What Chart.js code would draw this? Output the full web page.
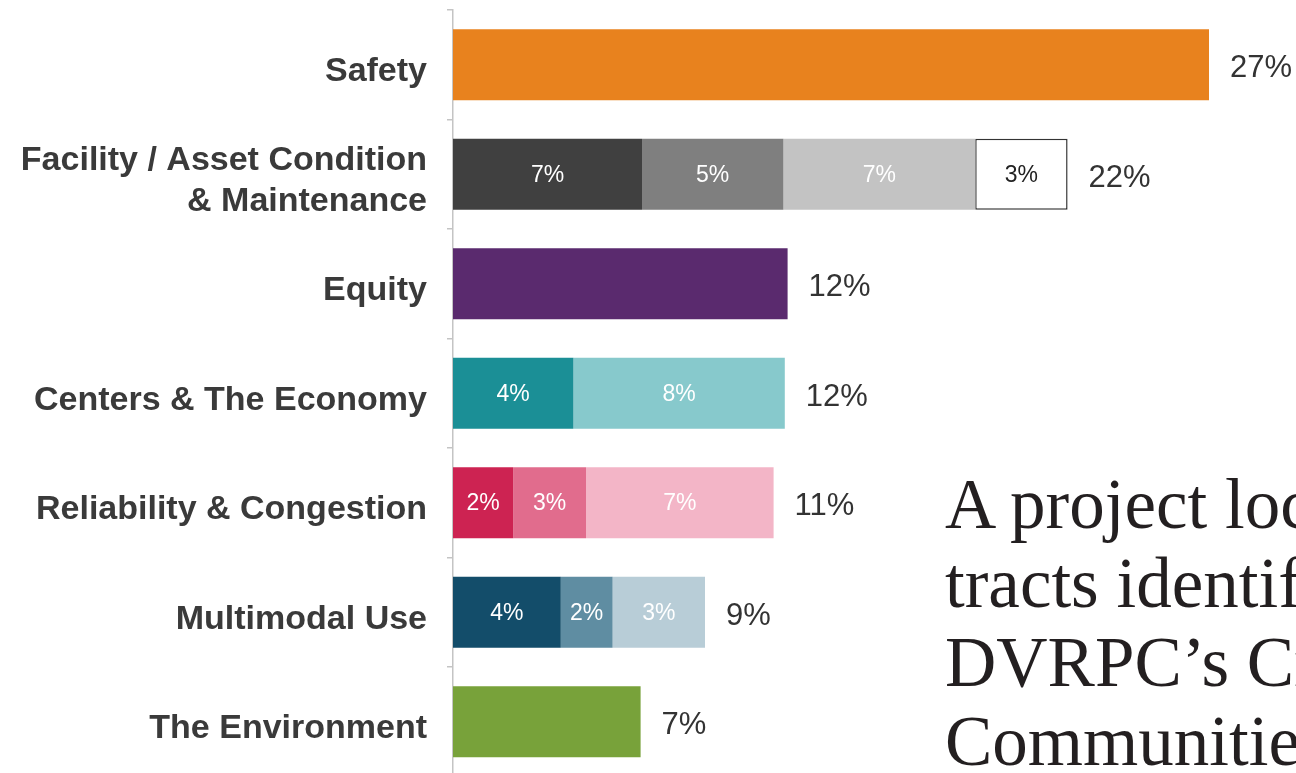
<!DOCTYPE html>
<html>
<head>
<meta charset="utf-8">
<script src="https://cdn.jsdelivr.net/npm/chart.js@4"></script>
<style>
  html, body { margin: 0; padding: 0; background: #fff; overflow: hidden; width: 1296px; height: 773px; }
  #wrap { position: absolute; left: 0; top: 0; width: 1296px; height: 790px; }
  #note {
    position: absolute; left: 945px; top: 465px;
    font-family: "Liberation Serif", "DejaVu Serif", serif;
    font-size: 71px; line-height: 79px; color: #231f20;
    white-space: nowrap;
  }
</style>
</head>
<body>
<div id="wrap"><canvas id="chart" width="1296" height="790"></canvas></div>
<div id="note">A project located in<br>tracts identified as<br>DVRPC’s Critical<br>Communities</div>
<script>
const categories = [
  "Safety",
  ["Facility / Asset Condition", "& Maintenance"],
  "Equity",
  "Centers & The Economy",
  "Reliability & Congestion",
  "Multimodal Use",
  "The Environment"
];

// segment values (percent)
const seg1 = [27, 6.75, 11.95, 4.3, 2.15, 3.85, 6.7];
const seg2 = [0, 5.05, 0, 7.55, 2.6, 1.85, 0];
const seg3 = [0, 6.85, 0, 0, 6.7, 3.3, 0];
const seg4 = [0, 3.3, 0, 0, 0, 0, 0];

const seg1Colors = ["#e8821e", "#404040", "#5a2a6e", "#1b8f96", "#cd2352", "#134d6a", "#78a23a"];
const seg2Colors = ["#fff", "#7f7f7f", "#fff", "#87c9cc", "#e16c8d", "#5f8da2", "#fff"];
const seg3Colors = ["#fff", "#c3c3c3", "#fff", "#fff", "#f3b5c7", "#b8cdd7", "#fff"];
const seg4Colors = ["#fff", "#ffffff", "#fff", "#fff", "#fff", "#fff", "#fff"];

const totals = categories.map((c, i) => seg1[i] + seg2[i] + seg3[i] + seg4[i]);
const segCount = categories.map((c, i) => [seg1[i], seg2[i], seg3[i], seg4[i]].filter(v => v > 0).length);

const labelPlugin = {
  id: "barLabels",
  afterDatasetsDraw(chart) {
    const ctx = chart.ctx;
    const xScale = chart.scales.x;
    ctx.save();
    ctx.textBaseline = "middle";
    ctx.textAlign = "center";
    ctx.font = '23px "Liberation Sans", Arial, sans-serif';
    chart.data.datasets.forEach((ds, di) => {
      const meta = chart.getDatasetMeta(di);
      meta.data.forEach((bar, i) => {
        const v = ds.data[i];
        if (!v || segCount[i] < 2) return;
        // the white segment gets dark text
        ctx.fillStyle = ds.backgroundColor[i] === "#ffffff" ? "#222" : "#fff";
        ctx.fillText(Math.round(v) + "%", (bar.x + bar.base) / 2, bar.y + 1);
      });
    });
    // totals to the right of each bar
    ctx.textAlign = "left";
    ctx.fillStyle = "#333";
    ctx.font = '31px "Liberation Sans", Arial, sans-serif';
    const meta0 = chart.getDatasetMeta(0);
    totals.forEach((t, i) => {
      const x = xScale.getPixelForValue(t) + 21;
      ctx.fillText(Math.round(t) + "%", x, meta0.data[i].y + 4);
    });
    ctx.restore();
  }
};

function makeSet(data, colors, bordered) {
  return {
    data: data,
    backgroundColor: colors,
    borderColor: "#333",
    borderWidth: data.map((v, i) => (bordered && v > 0 ? 1.5 : 0)),
    borderSkipped: false,
    barPercentage: 0.65,
    categoryPercentage: 1.0
  };
}

new Chart(document.getElementById("chart").getContext("2d"), {
  type: "bar",
  data: {
    labels: categories,
    datasets: [
      makeSet(seg1, seg1Colors, false),
      makeSet(seg2, seg2Colors, false),
      makeSet(seg3, seg3Colors, false),
      makeSet(seg4, seg4Colors, true)
    ]
  },
  options: {
    indexAxis: "y",
    responsive: false,
    animation: false,
    devicePixelRatio: 1,
    layout: { padding: { left: 0, right: 3, top: 10, bottom: 13.5 } },
    plugins: {
      legend: { display: false },
      tooltip: { enabled: false }
    },
    scales: {
      x: {
        stacked: true,
        display: false,
        min: 0,
        max: 30
      },
      y: {
        stacked: true,
        afterFit(scale) {
          scale.width = 453;
          // no extra room for the first/last label
          scale.paddingTop = 0;
          scale.paddingBottom = 0;
        },
        border: { display: true, color: "#c4c4c4", width: 1.5 },
        grid: {
          display: true,
          offset: true,
          drawOnChartArea: false,
          drawTicks: true,
          tickLength: 6,
          color: "#c4c4c4",
          lineWidth: 1.5
        },
        ticks: {
          autoSkip: false,
          padding: 20,
          labelOffset: 7,
          color: "#3a3a3a",
          font: { family: '"Liberation Sans", Arial, sans-serif', size: 34, weight: "bold", lineHeight: 1.2 }
        }
      }
    }
  },
  plugins: [labelPlugin]
});
</script>
</body>
</html>
